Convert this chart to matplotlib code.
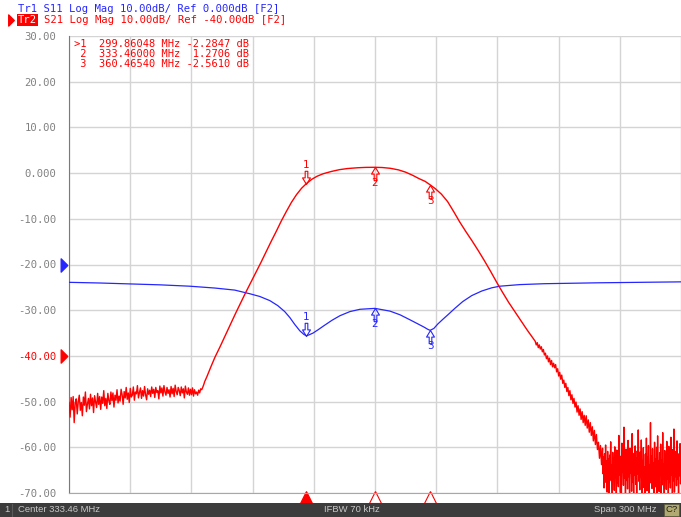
import numpy as np
import matplotlib
matplotlib.use("Agg")
import matplotlib.pyplot as plt
import matplotlib.transforms as mtransforms
from matplotlib.path import Path
from matplotlib.patches import Rectangle
from matplotlib.lines import Line2D

# ---------------- data ----------------
center_mhz = 333.46
span_mhz = 300.0
f_start = center_mhz - span_mhz / 2
f_stop = center_mhz + span_mhz / 2

# S21 noisy low-side floor: starts at 183.5 MHz, 0.5 MHz step
s21_low_start = 183.5
s21_low_step = 0.5
s21_low_vals = [
    -50.2, -53.4, -49.1, -51.8, -48.9, -54.6, -50.3, -49.4, -52.7, -50.0,
    -48.6, -51.9, -50.2, -53.1, -49.0, -50.8, -47.9, -52.2, -50.5, -49.3,
    -51.6, -48.4, -50.9, -49.2, -52.4, -48.7, -50.1, -51.3, -48.2, -50.6,
    -48.9, -51.7, -49.0, -50.4, -47.6, -50.9, -49.3, -51.5, -48.2, -49.8,
    -50.6, -47.9, -49.8, -48.1, -51.2, -48.6, -49.7, -47.4, -50.3, -48.8,
    -49.9, -47.3, -48.5, -50.6, -47.8, -49.2, -46.9, -49.5, -48.1, -50.2,
    -47.1, -49.0, -48.6, -46.8, -49.7, -47.9, -48.3, -46.5, -49.2, -48.0,
    -47.0, -49.3, -47.6, -48.8, -46.7, -48.5, -49.6, -47.2, -48.4, -47.5,
    -48.9, -46.8, -48.2, -47.3, -49.1, -46.9, -48.0, -47.6, -49.4, -46.6,
    -48.1, -47.0, -48.8, -46.5, -47.9, -48.6, -46.9, -48.2, -47.4, -49.0,
    -46.7, -48.3, -47.1, -48.9, -46.4, -47.8, -48.5, -46.9, -47.6, -48.7,
    -46.8, -48.1, -47.2, -49.2, -46.6, -47.9, -48.4, -47.0, -48.6, -47.3,
    -48.5, -47.0, -48.8, -47.4, -48.3, -47.9, -48.6, -47.5, -48.1, -47.2,
    -47.4, -46.9, -46.3, -45.6,
]

# S21 smooth region (passband and skirts)
s21_mid_freq = [251.0, 253.0, 255.0, 257.5, 260.0, 262.5, 265.0, 267.5, 270.0,
                272.5, 275.0, 277.5, 280.0, 282.5, 285.0, 287.5, 290.0, 292.5,
                295.0, 297.5, 299.86, 302.5, 305.0, 308.0, 312.0, 316.0, 320.0,
                325.0, 329.0, 333.46, 337.0, 341.0, 345.0, 348.5, 352.0, 355.0,
                358.0, 360.47, 363.0, 366.0, 369.0, 372.0, 375.0, 378.0, 381.0,
                384.0, 387.0, 390.0, 393.0, 396.0, 399.0, 402.0, 405.0, 408.0,
                411.0]
s21_mid_vals = [-44.6, -42.4, -40.3, -38.0, -35.6, -33.2, -30.8, -28.5, -26.2,
                -24.0, -21.8, -19.6, -17.3, -15.0, -12.8, -10.5, -8.4, -6.4,
                -4.7, -3.3, -2.28, -1.35, -0.7, -0.15, 0.35, 0.75, 1.0,
                1.17, 1.25, 1.27, 1.22, 1.05, 0.7, 0.2, -0.5, -1.2,
                -1.8, -2.56, -3.4, -4.6, -6.2, -8.4, -10.7, -12.8, -14.8,
                -16.9, -19.1, -21.4, -23.8, -26.1, -28.3, -30.3, -32.3, -34.3,
                -36.2]

# S21 noisy high-side skirt: starts at 412 MHz, 0.5 MHz step
s21_skirt_start = 412.0
s21_skirt_step = 0.5
s21_skirt_vals = [
    -36.8, -37.6, -37.1, -38.2, -37.6, -38.5, -38.0, -39.1, -38.6, -39.8,
    -39.4, -40.6, -40.0, -41.3, -40.5, -41.9, -41.0, -42.4, -41.6, -42.6,
    -41.9, -43.5, -42.8, -44.4, -43.6, -45.1, -44.2, -46.0, -45.3, -46.9,
    -46.0, -47.8, -46.9, -48.7, -47.6, -49.6, -48.5, -50.4, -49.3, -51.2,
    -50.1, -52.3, -50.9, -53.0, -51.6, -53.9, -52.2, -54.6, -53.0, -55.2,
    -53.1, -55.8, -54.0, -56.7, -54.6, -57.4, -55.5, -58.6, -56.3, -59.4,
    -57.2, -60.5, -58.9, -62.4, -59.6, -63.8,
]

# S21 noise floor: starts at 445 MHz, 0.25 MHz step
s21_floor_start = 445.0
s21_floor_step = 0.25
s21_floor_vals = [
    -60.2, -65.8, -62.1, -68.9, -61.4, -66.3, -59.5, -67.7, -63.0, -69.8, -60.9, -65.1, -62.6, -70.6, -61.7, -66.9,
    -58.8, -67.3, -63.9, -70.2, -61.1, -65.6, -62.3, -69.4, -59.9, -66.7, -64.1, -71.0, -60.6, -67.9, -62.8, -68.6,
    -57.4, -66.0, -61.9, -69.9, -63.2, -70.8, -59.1, -65.4, -62.0, -68.3, -55.6, -66.8, -63.6, -71.3, -60.4, -67.2,
    -61.6, -69.1, -58.5, -66.4, -64.0, -70.4, -60.2, -65.7, -62.7, -69.6, -57.0, -67.6, -63.1, -70.9, -61.3, -66.1,
    -59.7, -68.1, -62.4, -71.1, -60.8, -65.9, -56.2, -67.4, -63.5, -69.3, -61.0, -66.6, -58.4, -70.3, -62.9, -67.0,
    -60.1, -68.8, -64.3, -70.7, -61.5, -66.2, -58.0, -69.5, -62.2, -65.5, -59.6, -71.4, -63.8, -67.8, -54.6, -66.5,
    -61.9, -69.0, -60.3, -67.1, -63.4, -70.5, -58.9, -66.0, -62.5, -68.7, -60.0, -71.2, -57.5, -67.5, -63.0, -69.7,
    -61.2, -66.3, -59.3, -70.1, -62.8, -68.2, -56.8, -67.0, -63.7, -71.0, -60.7, -65.8, -62.1, -69.2, -58.7, -66.9,
    -62.4, -70.0, -59.8, -67.7, -61.6, -68.9, -57.8, -66.1, -63.3, -71.3, -60.5, -67.3, -56.0, -69.8, -62.0, -66.4,
    -60.9, -68.4, -58.6, -67.0, -63.1, -70.6, -61.4, -66.2, -59.2, -68.0, -62.6,
]

# S11 trace
s11_freq = [183.46, 198.7, 213.3, 228.0, 242.7, 254.9, 264.7, 272.1, 277.0,
            281.9, 285.8, 289.2, 291.7, 294.1, 296.6, 298.6, 299.86, 301.1,
            303.1, 305.5, 308.4, 312.4, 316.3, 321.2, 326.1, 333.46, 340.8,
            345.7, 350.6, 354.5, 357.5, 359.4, 360.47, 362.3, 364.3, 366.7,
            369.2, 372.6, 376.5, 380.9, 385.8, 390.7, 394.6, 404.4, 416.7,
            443.6, 483.46]
s11_vals = [-23.9, -24.05, -24.25, -24.45, -24.75, -25.15, -25.6, -26.4, -27.0,
            -27.9, -29.0, -30.3, -31.6, -33.1, -34.5, -35.3, -35.6, -35.4,
            -35.0, -34.3, -33.4, -32.2, -31.2, -30.3, -29.8, -29.6, -30.2,
            -31.0, -32.1, -33.0, -33.7, -34.2, -34.4, -34.0, -33.0, -32.0,
            -31.0, -29.6, -28.1, -26.8, -25.8, -25.1, -24.75, -24.4, -24.2,
            -24.0, -23.8]

marker_freq = [299.86048, 333.46000, 360.46540]
marker_s21 = [-2.2847, 1.2706, -2.5610]
marker_s11 = [-35.6, -29.6, -34.4]
marker_ids = ["1", "2", "3"]

ytick_vals = [30, 20, 10, 0, -10, -20, -30, -40, -50, -60, -70]
ytick_labels = ["30.00", "20.00", "10.00", "0.000", "-10.00", "-20.00",
                "-30.00", "-40.00", "-50.00", "-60.00", "-70.00"]

header1 = "Tr1 S11 Log Mag 10.00dB/ Ref 0.000dB [F2]"
header2_tag = "Tr2"
header2 = "S21 Log Mag 10.00dB/ Ref -40.00dB [F2]"
table_lines = [">1  299.86048 MHz -2.2847 dB",
               " 2  333.46000 MHz  1.2706 dB",
               " 3  360.46540 MHz -2.5610 dB"]

# ---------------- figure ----------------
W, H = 681, 517
fig = plt.figure(figsize=(W / 100, H / 100), dpi=100)
fig.patch.set_facecolor("white")

ax = fig.add_axes([69 / W, 24 / H, 612 / W, 457 / H])
ax.set_xlim(f_start, f_stop)
ax.set_ylim(-70, 30)

RED = "#ff0000"
BLUE = "#2626ff"
MONO = "DejaVu Sans Mono"

# grid
ax.set_xticks(f_start + 30 * np.arange(11))
ax.set_xticklabels([])
ax.set_yticks(ytick_vals)
ax.set_yticklabels(ytick_labels, family=MONO, fontsize=7.6, color="#808080")
for lbl in ax.get_yticklabels():
    if lbl.get_text() == "-40.00":
        lbl.set_color(RED)
ax.tick_params(length=0, pad=9)
ax.grid(True, color="#d4d4d4", lw=1.0)
ax.set_axisbelow(True)
for s in ["top", "right"]:
    ax.spines[s].set_visible(False)
ax.spines["left"].set_color("#7a7a7a")
ax.spines["bottom"].set_color("#a8a8a8")

# traces
low_f = s21_low_start + s21_low_step * np.arange(len(s21_low_vals))
skirt_f = s21_skirt_start + s21_skirt_step * np.arange(len(s21_skirt_vals))
floor_f = s21_floor_start + s21_floor_step * np.arange(len(s21_floor_vals))
s21_f = np.concatenate([low_f, s21_mid_freq, skirt_f, floor_f])
s21_v = np.concatenate([s21_low_vals, s21_mid_vals, s21_skirt_vals, s21_floor_vals])

ax.plot(s11_freq, s11_vals, color=BLUE, lw=0.9, zorder=3)
ax.plot(s21_f, s21_v, color=RED, lw=1.0, zorder=4)

# marker arrow shapes (apex at the data point)
down_arrow = Path([(0, 0), (-3, 5), (-1, 5), (-1, 10), (1, 10), (1, 5), (3, 5), (0, 0)],
                  [Path.MOVETO] + [Path.LINETO] * 6 + [Path.CLOSEPOLY])
up_arrow = Path([(0, 0), (-3, -5), (-1, -5), (-1, -10), (1, -10), (1, -5), (3, -5), (0, 0)],
                [Path.MOVETO] + [Path.LINETO] * 6 + [Path.CLOSEPOLY])

for vals, col in [(marker_s21, RED), (marker_s11, BLUE)]:
    for i, (f, v) in enumerate(zip(marker_freq, vals)):
        shape = down_arrow if i == 0 else up_arrow
        ax.plot([f], [v], marker=shape, ms=19, mfc="none", mec=col, mew=0.8,
                ls="none", zorder=5)
        dy = 13.5 if i == 0 else -11.5
        ax.annotate(marker_ids[i], (f, v), xytext=(0, dy), textcoords="offset points",
                    ha="center", va="center", fontsize=7.5, color=col,
                    family="DejaVu Sans", zorder=6)

# marker indicators under the axes
trans_xb = mtransforms.blended_transform_factory(ax.transData, ax.transAxes)
for i, f in enumerate(marker_freq):
    ax.plot([f], [-0.0095], marker="^", ms=8.5, transform=trans_xb, clip_on=False,
            mfc=RED if i == 0 else "white", mec=RED, mew=0.8, ls="none")

# reference position triangles on the left
trans_ya = mtransforms.blended_transform_factory(ax.transAxes, ax.transData)
ref_tri = Path([(-0.5, -1), (0.5, 0), (-0.5, 1), (-0.5, -1)],
               [Path.MOVETO, Path.LINETO, Path.LINETO, Path.CLOSEPOLY])
ax.plot([-0.0075], [-20], marker=ref_tri, ms=9.5, color=BLUE, transform=trans_ya,
        clip_on=False, ls="none")
ax.plot([-0.0075], [-40], marker=ref_tri, ms=9.5, color=RED, transform=trans_ya,
        clip_on=False, ls="none")

# marker table
for k, line in enumerate(table_lines):
    fig.text(74 / W, 1 - (44 + 10 * k) / H, line, family=MONO, fontsize=7.5,
             color=RED, va="center", ha="left")

# header
fig.text(18 / W, 1 - 9 / H, header1, family=MONO, fontsize=7.6, color=BLUE,
         va="center", ha="left")
fig.text(43.5 / W, 1 - 20 / H, header2, family=MONO, fontsize=7.6, color=RED,
         va="center", ha="left")
fig.text(18 / W, 1 - 20 / H, header2_tag, family=MONO, fontsize=7.6, color="white",
         va="center", ha="left",
         bbox=dict(facecolor=RED, edgecolor="none", boxstyle="square,pad=0.08"))
fig.add_artist(Line2D([11 / W], [1 - 20 / H], marker=ref_tri, ms=8, color=RED,
                      transform=fig.transFigure, ls="none"))

# status bar
fig.add_artist(Rectangle((0, 0), 1, 14 / H, transform=fig.transFigure,
                         facecolor="#3c3c3c", edgecolor="none"))
bar_y = 7 / H
bar_kw = dict(family="Liberation Sans", fontsize=6.8, color="#c8c8c8", va="center")
fig.text(4 / W, bar_y, "1", ha="left", **bar_kw)
fig.add_artist(Line2D([12 / W, 12 / W], [1 / H, 13 / H], color="#5a5a5a", lw=0.8,
                      transform=fig.transFigure))
fig.text(18 / W, bar_y, "Center 333.46 MHz", ha="left", **bar_kw)
fig.text(324 / W, bar_y, "IFBW 70 kHz", ha="left", **bar_kw)
fig.text(656 / W, bar_y, "Span 300 MHz", ha="right", **bar_kw)
fig.add_artist(Rectangle((664 / W, 1 / H), 15 / W, 12 / H, transform=fig.transFigure,
                         facecolor="#b0aa72", edgecolor="#5a5a3a", lw=0.5))
fig.text(671.5 / W, bar_y, "C?", ha="center", family="Liberation Sans",
         fontsize=6.8, color="#202020", va="center")

fig.savefig("out.png", dpi=100, facecolor="white")
